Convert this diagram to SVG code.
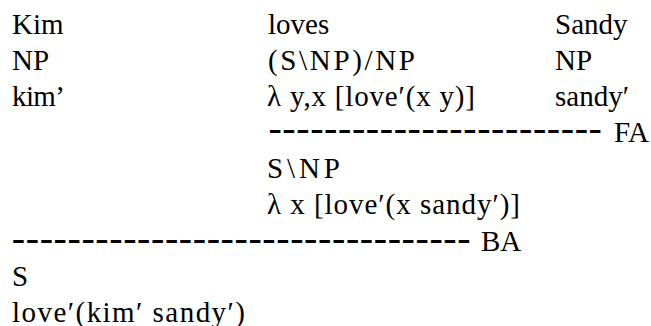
<svg xmlns="http://www.w3.org/2000/svg" width="651" height="326" viewBox="0 0 651 326">
<style>
text{font-family:"Liberation Serif",serif;font-size:29px;fill:#000}
text.d{font-size:40px;letter-spacing:0.6px}
</style>
<rect width="651" height="326" fill="#fff"/>
<g font-family="Liberation Serif">
<g id="kim">
<text x="12" y="34">Kim</text>
<text x="12" y="70">NP</text>
<text x="12" y="106" textLength="53" lengthAdjust="spacing">kim’</text>
</g>
<g id="loves">
<text x="268" y="34">loves</text>
<text x="268" y="70" textLength="147" lengthAdjust="spacing">(S\NP)/NP</text>
<text x="267" y="106" textLength="208" lengthAdjust="spacing">λ y,x [love′(x y)]</text>
</g>
<g id="sandy">
<text x="555" y="34">Sandy</text>
<text x="555" y="70">NP</text>
<text x="555" y="106">sandy′</text>
</g>
<g id="connectors">
<text class="d" x="268.4" y="141">------------------------</text>
<text x="614" y="142">FA</text>
<text class="d" x="11.8" y="250.7">---------------------------------</text>
<text x="481" y="251">BA</text>
</g>
<g id="lovesSandy">
<text x="267" y="178" textLength="73" lengthAdjust="spacing">S\NP</text>
<text x="267" y="214" textLength="253" lengthAdjust="spacing">λ x [love′(x sandy′)]</text>
</g>
<g id="sentence">
<text x="12" y="286">S</text>
<text x="12" y="322" textLength="233" lengthAdjust="spacing">love′(kim′ sandy′)</text>
</g>
</g>
</svg>
